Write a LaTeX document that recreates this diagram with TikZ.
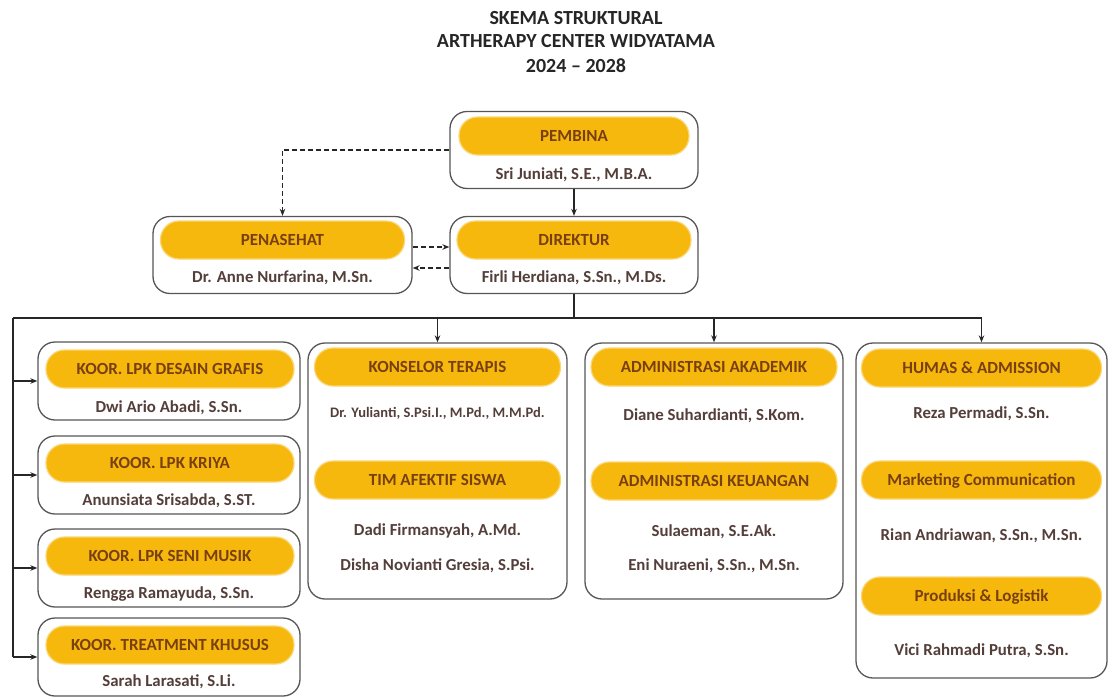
\documentclass[tikz,border=0pt]{standalone}
\usepackage{fontspec}
\setmainfont{Carlito}
\usepackage{xcolor}
\usepackage{tikz}
\usetikzlibrary{arrows.meta}

\definecolor{pillgold}{RGB}{247,184,14}
\definecolor{pillrim}{RGB}{251,214,118}
\definecolor{pilltext}{RGB}{120,64,14}
\definecolor{nametext}{RGB}{84,62,58}
\definecolor{boxline}{RGB}{86,86,86}

\begin{document}
\begin{tikzpicture}[x=1pt,y=-1pt,
		unit/.style={draw=boxline, line width=1.3pt, rounded corners=17pt, fill=white, inner sep=0pt},
		pill/.style={draw=pillrim, line width=1.2pt, fill=pillgold, rounded corners=18.5pt, minimum height=38pt, inner sep=0pt, text height=11pt, text depth=0pt, text=pilltext, font=\fontsize{17}{19}\selectfont\bfseries},
		person/.style={inner sep=0pt, text height=11pt, text depth=0pt, text=nametext, font=\fontsize{16.8}{19}\selectfont\bfseries},
		head/.style={inner sep=0pt, text height=12.9pt, text depth=0pt, text=black!85, font=\fontsize{20}{22}\selectfont\bfseries},
		link/.style={-{Stealth[length=7pt,width=5.5pt]}, line width=1.2pt, black!85},
		hint/.style={link, dash pattern=on 5pt off 3pt},
		bar/.style={line width=1.2pt, black!85}]
			\useasboundingbox (0,0) rectangle (1110,696);

			%% title
			\node[head] (judul1) at (576,18) {SKEMA STRUKTURAL};
			\node[head] (judul2) at (576,41) {ARTHERAPY CENTER WIDYATAMA};
			\node[head] (judul3) at (576,66) {2024 -- 2028};

			%% top
			\node[unit, minimum width=248pt, minimum height=77pt] (pembina) at (574,150) {};
			\node[pill, minimum width=230pt] (pembinaT) at (574,136) {PEMBINA};
			\node[person] (pembinaN) at (574,174) {Sri Juniati, S.E., M.B.A.};

			\node[unit, minimum width=259pt, minimum height=77pt] (penasehat) at (282.5,255) {};
			\node[pill, minimum width=244pt] (penasehatT) at (282.5,240) {PENASEHAT};
			\node[person] (penasehatN) at (282.5,277) {Dr. Anne Nurfarina, M.Sn.};

			\node[unit, minimum width=248pt, minimum height=77pt] (direktur) at (574,255) {};
			\node[pill, minimum width=234pt] (direkturT) at (574,240) {DIREKTUR};
			\node[person] (direkturN) at (574,277) {Firli Herdiana, S.Sn., M.Ds.};

			%% left column
			\node[unit, minimum width=262pt, minimum height=78pt] (koor1) at (169,381) {};
			\node[pill, minimum width=248pt] (koor1T) at (170,369) {KOOR. LPK DESAIN GRAFIS};
			\node[person] (koor1N) at (169,407) {Dwi Ario Abadi, S.Sn.};

			\node[unit, minimum width=262pt, minimum height=78pt] (koor2) at (169,475) {};
			\node[pill, minimum width=248pt] (koor2T) at (170,463) {KOOR. LPK KRIYA};
			\node[person] (koor2N) at (169,500) {Anunsiata Srisabda, S.ST.};

			\node[unit, minimum width=262pt, minimum height=78pt] (koor3) at (169,568) {};
			\node[pill, minimum width=248pt] (koor3T) at (170,556) {KOOR. LPK SENI MUSIK};
			\node[person] (koor3N) at (169,593) {Rengga Ramayuda, S.Sn.};

			\node[unit, minimum width=262pt, minimum height=78pt] (koor4) at (169,657) {};
			\node[pill, minimum width=248pt] (koor4T) at (170,645) {KOOR. TREATMENT KHUSUS};
			\node[person] (koor4N) at (169,681) {Sarah Larasati, S.Li.};

			%% columns
			\node[unit, minimum width=259pt, minimum height=256pt] (konselor) at (437.5,471) {};
			\node[pill, minimum width=246pt] (konselorT) at (437.5,367) {KONSELOR TERAPIS};
			\node[person, font=\fontsize{14.5}{16}\selectfont\bfseries] (konselorN) at (437.5,412) {Dr. Yulianti, S.Psi.I., M.Pd., M.M.Pd.};
			\node[pill, minimum width=246pt] (afektifT) at (437.5,480) {TIM AFEKTIF SISWA};
			\node[person] (afektifN1) at (437.5,530) {Dadi Firmansyah, A.Md.};
			\node[person] (afektifN2) at (437.5,565) {Disha Novianti Gresia, S.Psi.};

			\node[unit, minimum width=258pt, minimum height=256pt] (admin) at (714,471) {};
			\node[pill, minimum width=246pt] (akademikT) at (714,367) {ADMINISTRASI AKADEMIK};
			\node[person] (akademikN) at (714,415) {Diane Suhardianti, S.Kom.};
			\node[pill, minimum width=246pt] (keuanganT) at (714,481) {ADMINISTRASI KEUANGAN};
			\node[person] (keuanganN1) at (714,531) {Sulaeman, S.E.Ak.};
			\node[person] (keuanganN2) at (714,565) {Eni Nuraeni, S.Sn., M.Sn.};

			\node[unit, minimum width=251pt, minimum height=335pt] (humas) at (981.5,510.5) {};
			\node[pill, minimum width=240pt] (humasT) at (981.5,368) {HUMAS \& ADMISSION};
			\node[person] (humasN) at (981.5,413) {Reza Permadi, S.Sn.};
			\node[pill, minimum width=240pt] (marcomT) at (981.5,480) {Marketing Communication};
			\node[person] (marcomN) at (981.5,535) {Rian Andriawan, S.Sn., M.Sn.};
			\node[pill, minimum width=240pt] (produksiT) at (981.5,596) {Produksi \& Logistik};
			\node[person] (produksiN) at (981.5,650) {Vici Rahmadi Putra, S.Sn.};

			\coordinate (simpul) at (574,318);
			\coordinate (kiri) at (13,318);
			\coordinate (kanan) at (981.5,318);

			%% lines
			\draw[link] (pembina) edge (direktur);
			\draw[hint] (pembina.west) -| (penasehat.north);
			\draw[hint] ([yshift=8pt]penasehat.east) -- ([yshift=8pt]direktur.west);
			\draw[hint] ([yshift=-13pt]direktur.west) -- ([yshift=-13pt]penasehat.east);
			\draw[bar] (direktur.south) -- (simpul);
			\draw[bar] (kiri) -- (kanan);
			\draw[link] (konselor.north |- simpul) -- (konselor.north);
			\draw[link] (admin.north |- simpul) -- (admin.north);
			\draw[link] (kanan) -- (humas.north);
			\draw[bar] (kiri) -- (kiri |- koor4.west);
			\draw[link] (kiri |- koor1.west) -- (koor1.west);
			\draw[link] (kiri |- koor2.west) -- (koor2.west);
			\draw[link] (kiri |- koor3.west) -- (koor3.west);
			\draw[link] (kiri |- koor4.west) -- (koor4.west);
		\end{tikzpicture}
\end{document}
